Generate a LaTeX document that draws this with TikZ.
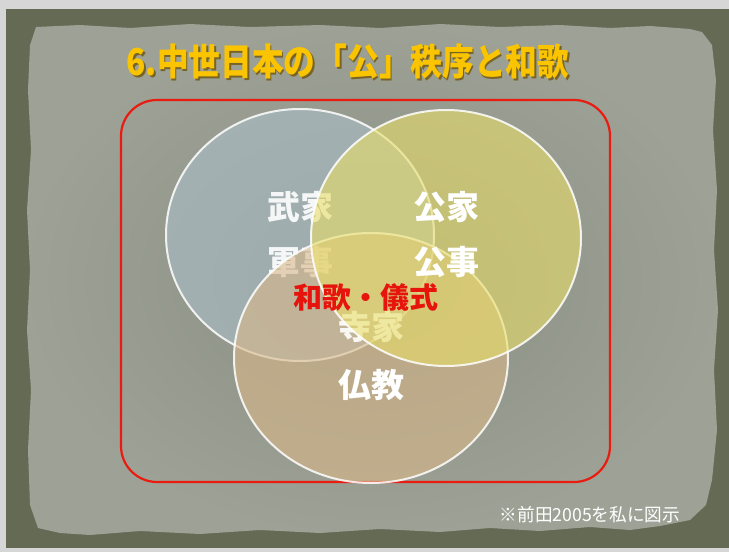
\documentclass[tikz,border=0pt]{standalone}
\usepackage{fontspec}
\setmainfont{Noto Sans CJK JP}
\usetikzlibrary{shapes.geometric}
\definecolor{outerbg}{RGB}{214,214,214}
\definecolor{frameol}{RGB}{100,106,84}
\definecolor{paperin}{RGB}{136,141,131}
\definecolor{paperout}{RGB}{158,162,150}
\definecolor{cblue}{RGB}{172,191,201}
\definecolor{cyel}{RGB}{232,222,105}
\definecolor{ctan}{RGB}{217,184,137}
\definecolor{redline}{RGB}{232,28,16}
\definecolor{redtext}{RGB}{230,20,12}
\definecolor{titley}{RGB}{250,196,0}
\definecolor{titled}{RGB}{120,100,40}
\tikzset{
  circ/.style={ellipse, draw=white, draw opacity=0.85, line width=2pt, fill opacity=0.6, inner sep=0pt},
  lab/.style={text=white, font=\fontsize{33}{33}\selectfont\bfseries, inner sep=0pt},
  faded/.style={lab, text opacity=0.9},
}
\begin{document}
\begin{tikzpicture}[x=1pt,y=-1pt]
\useasboundingbox (0,0) rectangle (729,552);
\fill[outerbg] (0,0) rectangle (729,552);
\fill[frameol] (6,9) rectangle (729,548);
% torn paper
\begin{scope}
\clip (36,27) -- (80,25) -- (130,28) -- (190,24) -- (250,27) -- (320,25) -- (380,28) -- (440,24) -- (500,27) -- (560,25) -- (610,28) -- (650,26) -- (690,29) -- (702,32) -- (712,45) -- (716,80) -- (713,130) -- (717,190) -- (714,250) -- (718,310) -- (714,370) -- (717,430) -- (712,480) -- (706,505) -- (690,520) -- (660,526) -- (630,530) -- (590,527) -- (540,531) -- (490,528) -- (440,532) -- (380,529) -- (320,533) -- (260,530) -- (200,534) -- (140,531) -- (90,535) -- (60,533) -- (38,528) -- (30,505) -- (28,450) -- (31,390) -- (27,330) -- (30,270) -- (27,210) -- (31,150) -- (28,90) -- (30,45) -- cycle;
\shade[inner color=paperin, outer color=paperout] (20,20) rectangle (725,540);
\end{scope}
% title
\node (titlesh) at (349.5,63.5) {\scalebox{0.857}[1]{\fontsize{37}{37}\selectfont\bfseries\color{titled}6.中世日本の「公」秩序と和歌}};
\node (title) at (348,62) {\scalebox{0.857}[1]{\fontsize{37}{37}\selectfont\bfseries\color{titley}6.中世日本の「公」秩序と和歌}};
% red frame
\node[draw=redline, line width=2.2pt, rounded corners=36pt, minimum width=489pt, minimum height=382pt, inner sep=0pt] (frame) at (365.5,291) {};
% circles and labels
\node[circ, fill=cblue, minimum width=268pt, minimum height=252pt] (L) at (300,235) {};
\node[faded] (buke) at (300,207) {武家};
\node[faded] (gunji) at (300,262) {軍事};
\node[circ, fill=ctan, minimum width=274pt, minimum height=250pt] (B) at (371,358) {};
\node[faded] (jike) at (371,327) {寺家};
\node[circ, fill=cyel, minimum width=270pt, minimum height=256pt] (R) at (446,238) {};
\node[lab] (kuge) at (446,207) {公家};
\node[lab] (kuji) at (446,262) {公事};
\node[lab] (bukkyo) at (371,385) {仏教};
\node[text=redtext, font=\fontsize{29}{29}\selectfont\bfseries, inner sep=0pt] (waka) at (366,297) {和歌・儀式};
% footnote
\node[text=white, inner sep=0pt] (note) at (590,515) {\scalebox{0.98}[1]{\fontsize{18}{18}\selectfont ※前田2005を私に図示}};
\end{tikzpicture}
\end{document}
